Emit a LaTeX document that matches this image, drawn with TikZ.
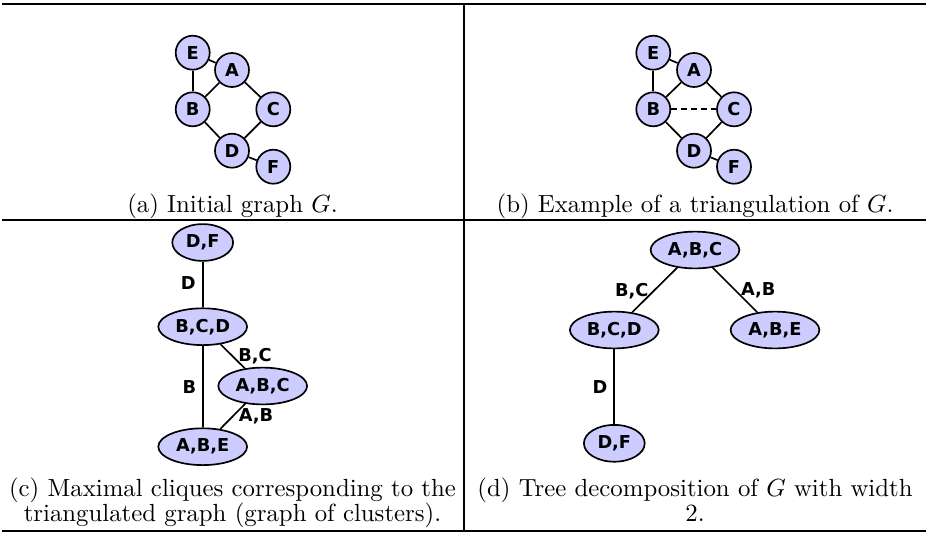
\documentclass[tikz,border=0pt]{standalone}
\usepackage{fontspec}
\newfontfamily\nodefont{DejaVu Sans}
\usetikzlibrary{shapes.geometric}
\definecolor{nodefill}{RGB}{204,204,255}
\newcommand\captxt[1]{\scalebox{1.55}{#1}}
\tikzset{
  lblfont/.style={font=\nodefont\bfseries\fontsize{11.1}{12}\selectfont},
  vert/.style={circle, draw, line width=1.05pt, fill=nodefill, minimum size=21.25pt, inner sep=0pt, lblfont},
  clique/.style={ellipse, draw, line width=1.05pt, fill=nodefill, minimum width=55.5pt, minimum height=23pt, inner sep=0pt, lblfont},
  small/.style={clique, minimum width=38pt},
  elab/.style={inner sep=0pt, lblfont},
  edge/.style={line width=1.05pt},
  rule/.style={line width=1.25pt},
  capt/.style={anchor=base, inner sep=0pt, font=\fontsize{10}{12}\selectfont}
}
\begin{document}
\begin{tikzpicture}[x=0.625pt, y=-0.625pt]
\useasboundingbox (0,0) rectangle (928,532);
% table rules
\coordinate (tl) at (2,3.5); \coordinate (tr) at (926,3.5);
\coordinate (ml) at (2,219.5); \coordinate (mr) at (926,219.5);
\coordinate (bl) at (2,530.5); \coordinate (br) at (926,530.5);
\coordinate (vt) at (463.5,3.5); \coordinate (vb) at (463.5,530.5);
\draw[rule] (tl) -- (tr);
\draw[rule] (ml) -- (mr);
\draw[rule] (bl) -- (br);
\draw[rule] (vt) -- (vb);
% panel (a)
\node[vert] (aE) at (192.7,52.7) {E};
\node[vert] (aA) at (232,70) {A};
\node[vert] (aB) at (192.7,109.3) {B};
\node[vert] (aC) at (273.3,109.3) {C};
\node[vert] (aD) at (232,150.7) {D};
\node[vert] (aF) at (273.3,166.7) {F};
\draw[edge] (aE) -- (aA);
\draw[edge] (aE) -- (aB);
\draw[edge] (aA) -- (aB);
\draw[edge] (aA) -- (aC);
\draw[edge] (aB) -- (aD);
\draw[edge] (aC) -- (aD);
\draw[edge] (aD) -- (aF);
\node[capt] (capa) at (232.5,212) {\captxt{(a) Initial graph $G$.}};
% panel (b)
\node[vert] (bE) at (653.3,52.7) {E};
\node[vert] (bA) at (694,70) {A};
\node[vert] (bB) at (653.3,109.3) {B};
\node[vert] (bC) at (734,109.3) {C};
\node[vert] (bD) at (694,150.7) {D};
\node[vert] (bF) at (734,166.7) {F};
\draw[edge] (bE) -- (bA);
\draw[edge] (bE) -- (bB);
\draw[edge] (bA) -- (bB);
\draw[edge] (bA) -- (bC);
\draw[edge] (bB) -- (bD);
\draw[edge] (bC) -- (bD);
\draw[edge] (bD) -- (bF);
\draw[edge, dash pattern=on 3.8pt off 2.4pt] (bB) -- (bC);
\node[capt] (capb) at (695,212) {\captxt{(b) Example of a triangulation of $G$.}};
% panel (c)
\node[small] (cDF) at (202.7,242.5) {D,F};
\node[clique] (cBCD) at (202.7,326.7) {B,C,D};
\node[clique] (cABC) at (262.7,386) {A,B,C};
\node[clique] (cABE) at (202.7,446.7) {A,B,E};
\draw[edge] (cDF) -- (cBCD);
\draw[edge] (cBCD) -- (cABC);
\draw[edge] (cBCD) -- (cABE);
\draw[edge] (cABC) -- (cABE);
\node[elab] (lcD) at (188.3,283.3) {D};
\node[elab] (lcBC) at (255,356) {B,C};
\node[elab] (lcB) at (189.3,386.7) {B};
\node[elab] (lcAB) at (256,416) {A,B};
\node[capt] (capc1) at (232.5,496) {\captxt{(c) Maximal cliques corresponding to the}};
\node[capt] (capc2) at (232.5,521) {\captxt{triangulated graph (graph of clusters).}};
% panel (d)
\node[clique] (dABC) at (695,250) {A,B,C};
\node[clique] (dBCD) at (614.3,330) {B,C,D};
\node[clique] (dABE) at (775,330) {A,B,E};
\node[small] (dDF) at (614.3,443.3) {D,F};
\draw[edge] (dABC) -- (dBCD);
\draw[edge] (dABC) -- (dABE);
\draw[edge] (dBCD) -- (dDF);
\node[elab] (ldBC) at (631.7,290.7) {B,C};
\node[elab] (ldAB) at (758.3,290.7) {A,B};
\node[elab] (ldD) at (600,386.7) {D};
\node[capt] (capd1) at (695,496) {\captxt{(d) Tree decomposition of $G$ with width}};
\node[capt] (capd2) at (695,521) {\captxt{2.}};
\end{tikzpicture}
\end{document}
